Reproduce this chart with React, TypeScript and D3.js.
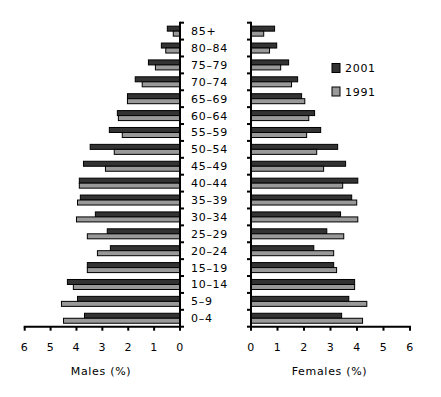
import React from "react";
import * as d3 from "d3";

const ageGroups = ["0–4","5–9","10–14","15–19","20–24","25–29","30–34","35–39","40–44","45–49","50–54","55–59","60–64","65–69","70–74","75–79","80–84","85+"];
const males2001 = [3.69,3.96,4.35,3.58,2.69,2.81,3.27,3.85,3.89,3.73,3.47,2.73,2.42,2.03,1.73,1.22,0.72,0.49];
const males1991 = [4.5,4.58,4.12,3.58,3.19,3.58,4.0,3.96,3.89,2.88,2.54,2.23,2.38,2.03,1.46,0.95,0.55,0.26];
const females2001 = [3.42,3.69,3.91,3.12,2.37,2.86,3.38,3.8,4.03,3.57,3.27,2.63,2.4,1.91,1.76,1.42,0.97,0.89];
const females1991 = [4.21,4.37,3.91,3.23,3.12,3.5,4.03,3.99,3.46,2.74,2.48,2.1,2.18,2.03,1.53,1.12,0.7,0.48];
const xTicks = [0,1,2,3,4,5,6];
const seriesNames = ["2001","1991"];
const colors = ["#333333","#999999"];

const FONT = "DejaVu Sans, Verdana, sans-serif";

export default function App() {
  const top = 22.7, bottom = 326.7;
  const y = d3.scaleBand<string>().domain([...ageGroups].reverse()).range([top, bottom]).padding(0);
  const xL = d3.scaleLinear().domain([0, 6]).range([180, 24.7]);
  const xR = d3.scaleLinear().domain([0, 6]).range([251, 410]);
  const bw = y.bandwidth();
  const barH = 5;
  const off = (bw - 2 * barH) / 2;
  const textStyle = { fontFamily: FONT, fontSize: 11, letterSpacing: 0.7, fill: "#000" } as const;

  const panel = (x: d3.ScaleLinear<number, number>, d2001: number[], d1991: number[], side: "L" | "R") => {
    const x0 = x(0);
    const tickDir = side === "L" ? 4 : -4;
    return (
      <g>
        {ageGroups.map((g, i) => {
          const yy = y(g)!;
          const a = x(d2001[i]), b = x(d1991[i]);
          return (
            <g key={g}>
              <rect x={Math.min(a, x0)} y={yy + off} width={Math.abs(a - x0)} height={barH} fill={colors[0]} stroke="#000" strokeWidth={1} />
              <rect x={Math.min(b, x0)} y={yy + off + barH} width={Math.abs(b - x0)} height={barH} fill={colors[1]} stroke="#000" strokeWidth={1} />
            </g>
          );
        })}
        {/* vertical axis */}
        <line x1={x0} x2={x0} y1={top - 1} y2={bottom + 1} stroke="#000" strokeWidth={2} />
        {[...y.domain().map(d => y(d)!), bottom].map((t, i) => (
          <line key={i} x1={x0} x2={x0 + tickDir} y1={t} y2={t} stroke="#000" strokeWidth={2} />
        ))}
        {/* horizontal axis */}
        <line x1={Math.min(x(6), x0) - 1} x2={Math.max(x(6), x0) + 1} y1={bottom} y2={bottom} stroke="#000" strokeWidth={2} />
        {xTicks.map(t => (
          <g key={t}>
            <line x1={x(t)} x2={x(t)} y1={bottom} y2={bottom + 4} stroke="#000" strokeWidth={2} />
            <text x={x(t)} y={350.5} textAnchor="middle" style={textStyle}>{t}</text>
          </g>
        ))}
      </g>
    );
  };

  return (
    <svg width={441} height={397} style={{ position: "absolute", left: 0, top: 0, background: "#fff" }}>
      <rect width={441} height={397} fill="#fff" />
      {panel(xL, males2001, males1991, "L")}
      {panel(xR, females2001, females1991, "R")}
      {ageGroups.map(g => (
        <text key={g} x={191} y={y(g)! + bw / 2 + 4} style={textStyle}>{g}</text>
      ))}
      <text x={101} y={375} textAnchor="middle" style={textStyle}>Males (%)</text>
      <text x={329.5} y={375} textAnchor="middle" style={textStyle}>Females (%)</text>
      {seriesNames.map((s, i) => (
        <g key={s}>
          <rect x={332} y={63.5 + i * 23.5} width={8} height={9} fill={colors[i]} stroke="#000" strokeWidth={1} />
          <text x={345} y={72 + i * 23.5} style={textStyle}>{s}</text>
        </g>
      ))}
    </svg>
  );
}
